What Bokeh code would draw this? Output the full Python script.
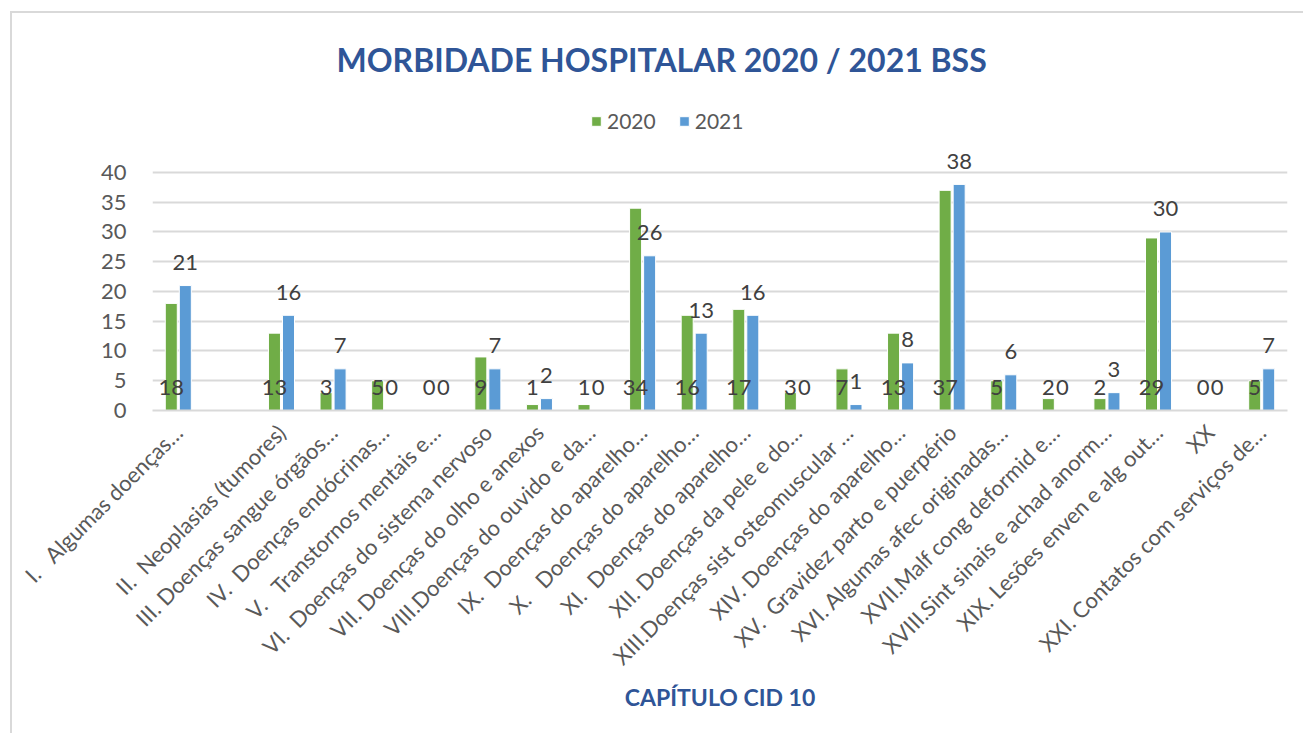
import math
from bokeh.plotting import figure
from bokeh.models import ColumnDataSource, FixedTicker, Legend, LegendItem
from bokeh.transform import dodge
from bokeh.core.properties import value
from bokeh.embed import file_html
from bokeh.resources import INLINE

NB = "\u00a0"
categories = [
    "I." + NB * 3 + "Algumas doenças…",
    "II." + NB * 2 + "Neoplasias (tumores)",
    "III. Doenças sangue órgãos…",
    "IV." + NB * 2 + "Doenças endócrinas…",
    "V." + NB * 3 + "Transtornos mentais e…",
    "VI." + NB * 2 + "Doenças do sistema nervoso",
    "VII. Doenças do olho e anexos",
    "VIII.Doenças do ouvido e da…",
    "IX." + NB * 2 + "Doenças do aparelho…",
    "X." + NB * 3 + "Doenças do aparelho…",
    "XI." + NB * 2 + "Doenças do aparelho…",
    "XII. Doenças da pele e do…",
    "XIII.Doenças sist osteomuscular …",
    "XIV. Doenças do aparelho…",
    "XV." + NB * 2 + "Gravidez parto e puerpério",
    "XVI. Algumas afec originadas…",
    "XVII.Malf cong deformid e…",
    "XVIII.Sint sinais e achad anorm…",
    "XIX. Lesões enven e alg out…",
    "XX",
    "XXI. Contatos com serviços de…",
]
blank_category = " "
values_2020 = [18, 13, 3, 5, 0, 9, 1, 1, 34, 16, 17, 3, 7, 13, 37, 5, 2, 2, 29, 0, 5]
values_2021 = [21, 16, 7, 0, 0, 7, 2, 0, 26, 13, 16, 0, 1, 8, 38, 6, 0, 3, 30, 0, 7]
y_ticks = [0, 5, 10, 15, 20, 25, 30, 35, 40]
series_names = ["2020", "2021"]

factors = [categories[0], blank_category] + categories[1:]

src = ColumnDataSource(dict(
    cat=categories,
    v2020=values_2020,
    v2021=values_2021,
    t2020=[str(v) for v in values_2020],
    t2021=[str(v) for v in values_2021],
))

GREEN = "#70AD47"
BLUE = "#5B9BD5"
FONT = "Lato"

p = figure(
    x_range=factors, y_range=(0, 52.1),
    width=1293, height=722,
    output_backend="svg", toolbar_location=None,
    min_border_left=140, min_border_right=18, min_border_top=87, min_border_bottom=325,
)
p.margin = (11, 0, 0, 10)
p.styles = {"border-top": "2px solid #d9d9d9", "border-left": "2px solid #d9d9d9"}
p.outline_line_color = None

off = 0.136
w = 0.233
r1 = p.vbar(x=dodge("cat", -off, range=p.x_range), top="v2020", width=w, source=src,
            fill_color=GREEN, line_color="white", line_width=1)
r2 = p.vbar(x=dodge("cat", off, range=p.x_range), top="v2021", width=w, source=src,
            fill_color=BLUE, line_color="white", line_width=1)

p.text(x=dodge("cat", -off, range=p.x_range), y=0, text="t2020", source=src,
       text_align="center", text_baseline="middle", y_offset=-23,
       text_font=value(FONT), text_font_size="22px", text_color="#404040")
p.text(x=dodge("cat", off, range=p.x_range), y="v2021", text="t2021", source=src,
       text_align="center", text_baseline="middle", y_offset=-23,
       text_font=value(FONT), text_font_size="22px", text_color="#404040")

# axes
p.yaxis.ticker = FixedTicker(ticks=y_ticks)
p.ygrid.ticker = FixedTicker(ticks=y_ticks)
p.yaxis.axis_line_color = None
p.yaxis.major_tick_line_color = None
p.yaxis.minor_tick_line_color = None
p.yaxis.major_label_standoff = 20
p.yaxis.major_label_text_font = FONT
p.yaxis.major_label_text_font_size = "22px"
p.yaxis.major_label_text_color = "#595959"

p.ygrid.grid_line_color = "#d9d9d9"
p.ygrid.grid_line_width = 2
p.xgrid.grid_line_color = None

p.xaxis.axis_line_color = "#d9d9d9"
p.xaxis.axis_line_width = 2
p.xaxis.major_tick_line_color = None
p.xaxis.minor_tick_line_color = None
p.xaxis.major_label_orientation = math.pi / 4
p.xaxis.major_label_standoff = 12
p.xaxis.major_label_text_font = FONT
p.xaxis.major_label_text_font_size = "22px"
p.xaxis.major_label_text_color = "#595959"
p.xaxis.axis_label = "CAPÍTULO CID 10"
p.xaxis.axis_label_text_font = FONT
p.xaxis.axis_label_text_font_style = "bold"
p.xaxis.axis_label_text_font_size = "23px"
p.xaxis.axis_label_text_color = "#2F5597"
p.xaxis.axis_label_standoff = 0

# title
p.title.text = "MORBIDADE HOSPITALAR 2020 / 2021 BSS"
p.title.align = "left"
p.title.offset = 184
p.title.text_font = FONT
p.title.text_font_style = "bold"
p.title.text_font_size = "32px"
p.title.text_color = "#2F5597"
p.title.standoff = 43

legend = Legend(items=[LegendItem(label=series_names[0], renderers=[r1]),
                       LegendItem(label=series_names[1], renderers=[r2])],
                orientation="horizontal", location=(438, 277))
legend.glyph_width = 12
legend.glyph_height = 12
legend.label_text_font = FONT
legend.label_text_font_size = "21px"
legend.label_text_color = "#595959"
legend.label_standoff = 5
legend.spacing = 22
legend.padding = 0
legend.margin = 0
legend.border_line_color = None
legend.background_fill_alpha = 0
p.add_layout(legend)

open("out.html", "w").write(file_html(p, INLINE))
